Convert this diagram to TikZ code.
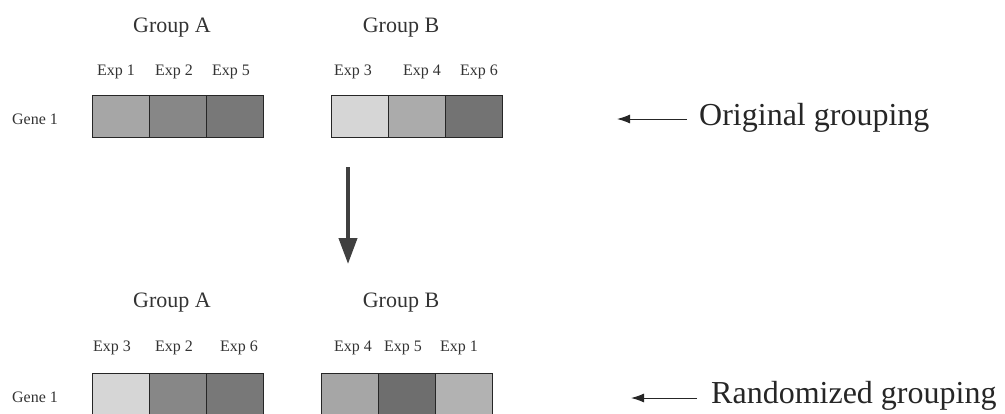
\documentclass[tikz,border=0pt]{standalone}
\usepackage{fontspec}
\setmainfont{Liberation Serif}
\usetikzlibrary{arrows.meta}
\begin{document}
\begin{tikzpicture}[x=1pt,y=-1pt,
  cell/.style={draw=black!85,line width=0.9pt,inner sep=0pt,minimum width=57pt,minimum height=42pt,anchor=north west},
  grp/.style={font=\fontsize{22}{24}\selectfont,text=black!80,inner sep=0pt},
  exp/.style={font=\fontsize{16}{18}\selectfont,text=black!80,inner sep=0pt},
  big/.style={font=\fontsize{32}{34}\selectfont,text=black!85,inner sep=0pt,anchor=west},
  ptr/.style={-{Latex[length=13pt,width=9pt]},line width=1pt,black!85},
  down/.style={-{Triangle[length=26pt,width=18pt]},line width=4pt,black!75}]
\useasboundingbox (0,0) rectangle (1005,413);
% top row
\node[grp] (ga1) at (172,28) {Group A};
\node[grp] (gb1) at (401,28) {Group B};
\node[exp] (t1) at (116,72) {Exp 1};
\node[exp] (t2) at (174,72) {Exp 2};
\node[exp] (t3) at (231,72) {Exp 5};
\node[exp] (t4) at (353,72) {Exp 3};
\node[exp] (t5) at (422,72) {Exp 4};
\node[exp] (t6) at (479,72) {Exp 6};
\node[exp] (gene1) at (35,119) {Gene 1};
\node[cell,fill=black!35] (a1) at (92,95) {};
\node[cell,fill=black!47] (a2) at (149,95) {};
\node[cell,fill=black!53] (a3) at (206,95) {};
\node[cell,fill=black!16] (b1) at (331,95) {};
\node[cell,fill=black!33] (b2) at (388,95) {};
\node[cell,fill=black!55] (b3) at (445,95) {};
\node[big] (orig) at (699,118) {Original grouping};
\coordinate (o0) at (687,119);
\draw[ptr] (o0) -- (617,119);
% down arrow
\coordinate (d0) at (348,167);
\coordinate (d1) at (348,264);
\draw[down] (d0) -- (d1);
% bottom row
\node[grp] (ga2) at (172,303) {Group A};
\node[grp] (gb2) at (401,303) {Group B};
\node[exp] (s1) at (112,348) {Exp 3};
\node[exp] (s2) at (174,348) {Exp 2};
\node[exp] (s3) at (239,348) {Exp 6};
\node[exp] (s4) at (353,348) {Exp 4};
\node[exp] (s5) at (403,348) {Exp 5};
\node[exp] (s6) at (459,348) {Exp 1};
\node[exp] (gene2) at (35,397) {Gene 1};
\node[cell,fill=black!16] (c1) at (92,373) {};
\node[cell,fill=black!47] (c2) at (149,373) {};
\node[cell,fill=black!53] (c3) at (206,373) {};
\node[cell,fill=black!35] (e1) at (321,373) {};
\node[cell,fill=black!57] (e2) at (378,373) {};
\node[cell,fill=black!30] (e3) at (435,373) {};
\node[big] (rand) at (711,396) {Randomized grouping};
\coordinate (r0) at (697,398);
\draw[ptr] (r0) -- (631,398);
\end{tikzpicture}
\end{document}
